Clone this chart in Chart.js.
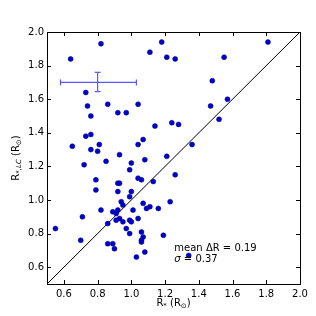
<!DOCTYPE html>
<html lang="en">
<head>
  <meta charset="UTF-8" />
  <title>Radius comparison</title>
  <script src="https://cdn.jsdelivr.net/npm/chart.js"></script>
  <style>
    body { margin: 0; background: #fff; }
    .chart-container { position: relative; width: 316px; height: 316px; }
  </style>
</head>
<body>
  <div class="chart-container">
    <canvas id="radiusChart"></canvas>
  </div>
  <script>
    // Stellar radius (x) vs light-curve radius (y)
    const rStar = [0.64, 0.82, 1.11, 1.18, 1.21, 1.26, 1.81, 1.55, 1.48, 1.47, 1.57, 1.52, 1.36,
      0.73, 0.74, 0.86, 1.04, 0.92, 0.97, 0.76, 1.14, 1.24, 1.28, 0.73, 0.76, 1.07, 0.65,
      0.76, 0.81, 1.04, 0.80, 0.93, 1.08, 1.21, 0.72, 0.85, 1.00, 0.99, 0.79, 0.92, 0.93,
      1.04, 1.06, 1.13, 1.26, 0.79, 0.92, 1.00, 0.99, 0.94, 0.95, 1.07, 1.11, 1.09, 1.16,
      1.23, 0.82, 0.89, 0.92, 0.91, 1.01, 0.71, 0.93, 0.91, 0.99, 1.00, 1.04, 0.95, 0.86,
      0.55, 0.97, 1.06, 0.99, 1.19, 1.07, 1.06, 1.06, 0.70, 0.86, 0.89, 0.90, 1.08, 1.03, 1.34];
    const rLC = [1.84, 1.93, 1.88, 1.94, 1.85, 1.84, 1.94, 1.85, 1.71, 1.56, 1.60, 1.48, 1.33,
      1.64, 1.56, 1.57, 1.57, 1.52, 1.52, 1.50, 1.44, 1.46, 1.45, 1.38, 1.39, 1.36, 1.32,
      1.30, 1.33, 1.33, 1.29, 1.27, 1.24, 1.26, 1.21, 1.23, 1.22, 1.18, 1.12, 1.10, 1.10,
      1.13, 1.12, 1.11, 1.15, 1.06, 1.05, 1.05, 1.02, 0.99, 0.97, 0.98, 0.96, 0.95, 0.95,
      0.99, 0.94, 0.93, 0.94, 0.92, 0.94, 0.90, 0.89, 0.88, 0.88, 0.87, 0.89, 0.87, 0.86,
      0.83, 0.83, 0.81, 0.80, 0.79, 0.78, 0.76, 0.75, 0.76, 0.74, 0.74, 0.71, 0.69, 0.66, 0.67];

    // Typical error bar
    const errCenter = [0.80, 1.70];
    const errX = [0.58, 1.03];
    const errY = [1.645, 1.76];

    const tickVals = [0.6, 0.8, 1.0, 1.2, 1.4, 1.6, 1.8, 2.0];
    const statLines = ['mean \u0394R = 0.19', '\u03c3 = 0.37'];

    const points = rStar.map((x, i) => ({ x: x, y: rLC[i] }));
    const errColor = '#5858ff';

    // Inward ticks on all sides, frame, axis titles with subscripts and stats text
    const decor = {
      id: 'decor',
      afterDraw(chart) {
        const ctx = chart.ctx;
        const a = chart.chartArea;
        const xs = chart.scales.x, ys = chart.scales.y;
        ctx.save();
        ctx.strokeStyle = '#000';
        ctx.lineWidth = 1;
        ctx.beginPath();
        tickVals.forEach(v => {
          const px = Math.round(xs.getPixelForValue(v)) + 0.5;
          ctx.moveTo(px, a.bottom); ctx.lineTo(px, a.bottom - 4);
          ctx.moveTo(px, a.top); ctx.lineTo(px, a.top + 4);
          const py = Math.round(ys.getPixelForValue(v)) + 0.5;
          ctx.moveTo(a.left, py); ctx.lineTo(a.left + 4, py);
          ctx.moveTo(a.right, py); ctx.lineTo(a.right - 4, py);
        });
        ctx.stroke();
        ctx.strokeRect(Math.round(a.left) + 0.5, Math.round(a.top) + 0.5,
          Math.round(a.right - a.left), Math.round(a.bottom - a.top));

        // stats text
        ctx.fillStyle = '#000';
        ctx.textBaseline = 'middle';
        ctx.textAlign = 'left';
        ctx.font = '10px "DejaVu Sans"';
        const tx = xs.getPixelForValue(1.255);
        ctx.fillText(statLines[0], tx, ys.getPixelForValue(0.714));
        ctx.font = 'italic 10px "DejaVu Sans"';
        ctx.fillText('\u03c3', tx, ys.getPixelForValue(0.648));
        const sw = ctx.measureText('\u03c3').width;
        ctx.font = '10px "DejaVu Sans"';
        ctx.fillText(statLines[1].slice(1), tx + sw, ys.getPixelForValue(0.648));

        // axis titles
        const xTitle = [{ t: 'R' }, { t: '*', sub: true }, { t: ' (R' }, { t: '\u2299', sub: true }, { t: ')' }];
        const yTitle = [{ t: 'R' }, { t: '*,LC', sub: true, it: true }, { t: ' (R' }, { t: '\u2299', sub: true }, { t: ')' }];
        drawRich(ctx, xTitle, (a.left + a.right) / 2, 303, 0);
        drawRich(ctx, yTitle, 16, (a.top + a.bottom) / 2, -Math.PI / 2);
        ctx.restore();
      }
    };

    function fontFor(seg) {
      return (seg.it ? 'italic ' : '') + (seg.sub ? '7px' : '10px') + ' "DejaVu Sans"';
    }

    function drawRich(ctx, segs, cx, cy, rot) {
      ctx.save();
      ctx.translate(cx, cy);
      ctx.rotate(rot);
      ctx.textBaseline = 'middle';
      ctx.textAlign = 'left';
      let total = 0;
      segs.forEach(s => { ctx.font = fontFor(s); total += ctx.measureText(s.t).width; });
      let x = -total / 2;
      segs.forEach(s => {
        ctx.font = fontFor(s);
        ctx.fillText(s.t, x, s.sub ? 3 : 0);
        x += ctx.measureText(s.t).width;
      });
      ctx.restore();
    }

    new Chart(document.getElementById('radiusChart'), {
      type: 'scatter',
      data: {
        datasets: [
          {
            data: points,
            backgroundColor: '#0000cc',
            borderColor: '#000088',
            borderWidth: 0.5,
            pointRadius: 2.5
          },
          {
            type: 'line',
            data: [{ x: 0.5, y: 0.5 }, { x: 2.0, y: 2.0 }],
            borderColor: '#000',
            borderWidth: 1,
            pointRadius: 0
          },
          {
            type: 'line',
            data: [{ x: errX[0], y: errCenter[1] }, { x: errX[1], y: errCenter[1] }],
            borderColor: errColor,
            borderWidth: 1.2,
            pointStyle: 'line',
            pointRotation: 90,
            pointRadius: 3,
            pointBorderColor: errColor,
            pointBorderWidth: 1.2
          },
          {
            type: 'line',
            data: [{ x: errCenter[0], y: errY[0] }, { x: errCenter[0], y: errY[1] }],
            borderColor: errColor,
            borderWidth: 1.2,
            pointStyle: 'line',
            pointRotation: 0,
            pointRadius: 3,
            pointBorderColor: errColor,
            pointBorderWidth: 1.2
          }
        ]
      },
      options: {
        responsive: true,
        maintainAspectRatio: false,
        animation: false,
        layout: { padding: { top: 32, right: 16, left: 0, bottom: 0 } },
        plugins: { legend: { display: false }, tooltip: { enabled: false } },
        scales: {
          x: {
            type: 'linear',
            min: 0.5, max: 2.0,
            grid: { display: false, drawTicks: false },
            border: { display: false },
            afterBuildTicks: s => { s.ticks = tickVals.map(v => ({ value: v })); },
            afterFit: s => { s.height = 32; },
            ticks: {
              padding: 4,
              color: '#000',
              font: { family: 'DejaVu Sans', size: 10 },
              maxRotation: 0,
              callback: v => v.toFixed(1)
            }
          },
          y: {
            type: 'linear',
            min: 0.5, max: 2.0,
            grid: { display: false, drawTicks: false },
            border: { display: false },
            afterBuildTicks: s => { s.ticks = tickVals.map(v => ({ value: v })); },
            afterFit: s => { s.width = 47; },
            ticks: {
              padding: 3,
              color: '#000',
              font: { family: 'DejaVu Sans', size: 10 },
              callback: v => v.toFixed(1)
            }
          }
        }
      },
      plugins: [decor]
    });
  </script>
</body>
</html>
